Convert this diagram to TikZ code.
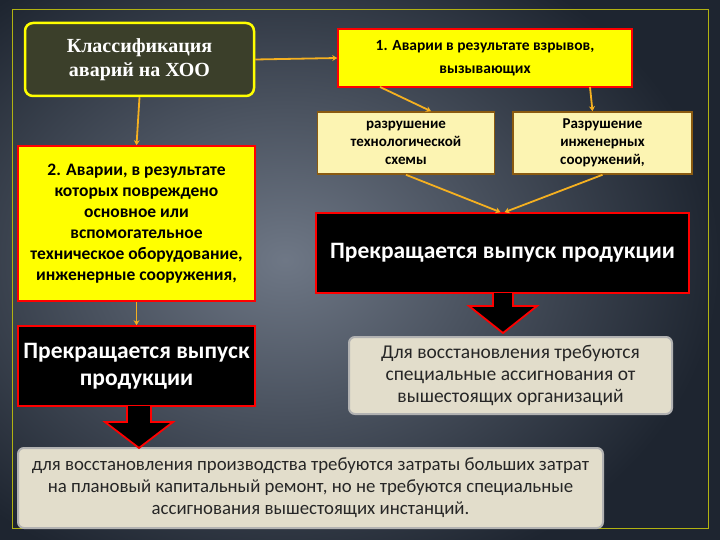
\documentclass[tikz,border=0pt]{standalone}
\usepackage{fontspec}
\setmainfont{Carlito}
\newfontfamily\serifb{Liberation Serif}
\usetikzlibrary{arrows.meta,shadings}
\definecolor{bgc}{HTML}{5E6878}
\definecolor{bgd}{HTML}{1E2530}
\definecolor{olive}{HTML}{3B3F2A}
\definecolor{yel}{HTML}{FFFF00}
\definecolor{lyel}{HTML}{FCF4B2}
\definecolor{brn}{HTML}{8A5A10}
\definecolor{org}{HTML}{F5B020}
\definecolor{gry}{HTML}{E2DDCB}
\tikzset{
 yb/.style={draw=red,line width=1.6pt,fill=yel,align=center,inner sep=1pt,font=\bfseries\fontsize{15.5}{23}\selectfont},
 lb/.style={draw=brn,line width=1.6pt,fill=lyel,align=center,inner sep=1pt,font=\bfseries\fontsize{15}{18}\selectfont},
 bb/.style={draw=red,line width=1.6pt,fill=black,text=white,align=center,inner sep=1pt,font=\bfseries\fontsize{23.5}{27}\selectfont},
 gb/.style={draw=gray!60,line width=2pt,fill=gry,rounded corners=6pt,align=center,inner sep=1pt,text=black!85,font=\fontsize{19.5}{22}\selectfont},
 con/.style={draw=org,line width=1.8pt,-{Stealth[length=5pt,width=6pt]}},
 blk/.style={fill=black,draw=red,line width=1.8pt,line join=miter}
}
\begin{document}
\begin{tikzpicture}[x=1pt,y=-1pt]
\useasboundingbox (0,0) rectangle (720,540);
\shade[inner color=bgc!90!white, outer color=bgd] (-150,-80) rectangle (720,600);
\draw[draw=yel!60!olive,line width=1pt] (12,10) rectangle (708,528);
\node[draw=yel,line width=2.5pt,fill=olive,rounded corners=8pt,minimum width=229pt,minimum height=73pt,text=white,align=center,font=\serifb\bfseries\fontsize{20}{24}\selectfont] (cls) at (139.5,59.5) {Классификация\\аварий на ХОО};
\node[yb,minimum width=294pt,minimum height=58pt] (a1) at (485,58) {1. Аварии в результате взрывов,\\вызывающих};
\node[lb,minimum width=177pt,minimum height=62pt] (ra) at (406,143) {разрушение\\технологической\\схемы};
\node[lb,minimum width=179pt,minimum height=62pt] (rb) at (602.5,143) {Разрушение\\инженерных\\сооружений,};
\node[bb,minimum width=373pt,minimum height=80pt] (p1) at (502.5,253) {Прекращается выпуск продукции};
\node[gb,minimum width=323pt,minimum height=77pt] (g1) at (510.5,375.5) {Для восстановления требуются\\специальные ассигнования от\\вышестоящих организаций};
\node[yb,minimum width=237pt,minimum height=155pt,font=\bfseries\fontsize{17.5}{21}\selectfont] (a2) at (136.5,223.5) {2. Аварии, в результате\\которых повреждено\\основное или\\вспомогательное\\техническое оборудование,\\инженерные сооружения,};
\node[bb,minimum width=237pt,minimum height=80pt] (p2) at (136.5,366) {Прекращается выпуск\\продукции};
\node[gb,minimum width=585pt,minimum height=80pt,font=\fontsize{18.8}{22}\selectfont] (g2) at (310.5,488) {для восстановления производства требуются затраты больших затрат\\на плановый капитальный ремонт, но не требуются специальные\\ассигнования вышестоящих инстанций.};
\draw[con] (cls.east) -- (a1.west);
\draw[con] (cls.south) -- (a2.north);
\draw[con] (a2.south) -- (p2.north);
\coordinate (s1) at (380,87); \coordinate (s2) at (590,87);
\draw[con] (s1) -- ([xshift=25pt]ra.north);
\draw[con] (s2) -- ([xshift=-10pt]rb.north);
\draw[con] (ra.south) -- ([xshift=-2pt]p1.north);
\draw[con] (rb.south) -- ([xshift=2pt]p1.north);
\draw[blk] (493,293) -- (493,306) -- (469,306) -- (503,333) -- (537,306) -- (513,306) -- (513,293);
\draw[blk] (127,406) -- (127,422) -- (105,422) -- (139,448) -- (173,422) -- (151,422) -- (151,406);
\end{tikzpicture}
\end{document}
